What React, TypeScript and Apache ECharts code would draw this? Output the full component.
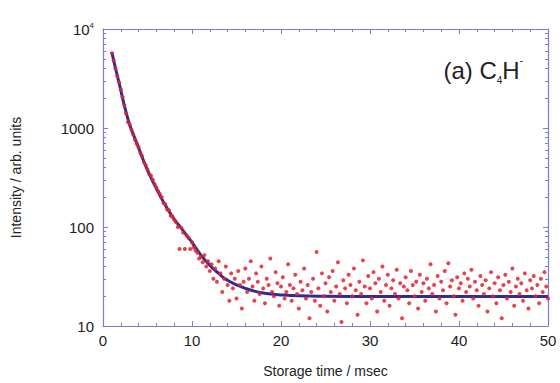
import React, { useEffect, useRef } from "react";
import * as echarts from "echarts";

const xTicks = [0, 10, 20, 30, 40, 50];
const yTickValues = [10, 100, 1000, 10000];

// fitted decay curve [time (ms), intensity]
const fitCurve: [number, number][] = [
  [1.0, 5800], [1.25, 4600], [1.5, 3700], [1.75, 3000], [2.0, 2400], [2.5, 1550],
  [3.0, 1080], [3.5, 820], [4.0, 630], [4.5, 480], [5.0, 375], [5.5, 300],
  [6.0, 245], [6.5, 200], [7.0, 166], [7.5, 140], [8.0, 120], [8.5, 105],
  [9.0, 92], [9.5, 80], [10.0, 70], [10.5, 60], [11.0, 52], [11.5, 46],
  [12.0, 41], [12.5, 37], [13.0, 34], [13.5, 31], [14.0, 29], [14.5, 27.4],
  [15.0, 26], [16.0, 24], [17.0, 22.5], [18.0, 21.5], [19.0, 21], [20.0, 20.6],
  [22.0, 20.2], [25.0, 20], [30.0, 19.9], [35.0, 19.9], [40.0, 19.9], [45.0, 19.9], [50.0, 19.9],
];

// measured ion intensity [time (ms), intensity]
const measured: [number, number][] = [
  [1.0, 5700], [1.2, 4800], [1.4, 4000], [1.6, 3350], [1.8, 2900], [2.0, 2450],
  [2.2, 2050], [2.4, 1700], [2.6, 1400], [2.8, 1150], [3.0, 1080], [3.2, 960],
  [3.4, 860], [3.6, 760], [3.8, 690], [4.0, 640], [4.2, 560], [4.4, 520],
  [4.6, 450], [4.8, 420], [5.0, 380], [5.2, 340], [5.4, 330], [5.6, 300],
  [5.8, 270], [6.0, 250], [6.2, 230], [6.4, 215], [6.6, 200], [6.8, 175],
  [7.0, 170], [7.2, 150], [7.4, 148], [7.6, 130], [7.8, 128], [8.0, 118],
  [8.2, 112], [8.4, 100], [8.6, 60], [8.8, 98], [9.0, 88], [9.2, 60],
  [9.4, 82], [9.6, 78], [9.8, 60], [10.0, 70], [10.2, 62], [10.4, 58],
  [10.6, 55], [10.8, 48], [11.0, 50], [11.2, 44], [11.4, 52], [11.6, 40],
  [11.8, 45], [12.0, 36], [12.2, 42], [12.4, 30], [12.6, 38], [12.8, 28],
  [13.0, 45], [13.2, 34], [13.4, 22], [13.6, 30], [13.8, 40], [14.0, 26],
  [14.2, 18], [14.4, 34], [14.6, 24], [14.8, 30], [15.0, 19], [15.2, 36],
  [15.4, 26], [15.6, 15], [15.8, 28], [16.0, 38], [16.2, 22], [16.4, 30],
  [16.6, 45], [16.8, 25], [17.0, 18], [17.2, 34], [17.4, 28], [17.6, 21],
  [17.8, 40], [18.0, 24], [18.2, 17], [18.4, 30], [18.6, 26], [18.8, 48],
  [19.0, 22], [19.2, 20], [19.4, 35], [19.6, 27], [19.8, 16], [20.0, 25],
  [20.2, 31], [20.4, 19], [20.6, 22], [20.8, 42], [21.0, 26], [21.2, 18],
  [21.4, 24], [21.6, 33], [21.8, 21], [22.0, 15], [22.2, 28], [22.4, 23],
  [22.6, 38], [22.8, 19], [23.0, 26], [23.2, 12], [23.4, 22], [23.6, 30],
  [23.8, 18], [24.0, 56], [24.2, 24], [24.4, 16], [24.6, 34], [24.8, 20],
  [25.0, 27], [25.2, 14], [25.4, 31], [25.6, 22], [25.8, 36], [26.0, 18],
  [26.2, 25], [26.4, 44], [26.6, 21], [26.8, 11], [27.0, 29], [27.2, 24],
  [27.4, 17], [27.6, 33], [27.8, 26], [28.0, 20], [28.2, 38], [28.4, 23],
  [28.6, 13], [28.8, 28], [29.0, 21], [29.2, 46], [29.4, 25], [29.6, 17],
  [29.8, 32], [30.0, 24], [30.2, 19], [30.4, 35], [30.6, 27], [30.8, 14],
  [31.0, 30], [31.2, 22], [31.4, 40], [31.6, 18], [31.8, 26], [32.0, 33],
  [32.2, 16], [32.4, 24], [32.6, 29], [32.8, 21], [33.0, 37], [33.2, 19],
  [33.4, 27], [33.6, 12], [33.8, 25], [34.0, 31], [34.2, 23], [34.4, 17],
  [34.6, 36], [34.8, 26], [35.0, 20], [35.2, 28], [35.4, 15], [35.6, 33],
  [35.8, 22], [36.0, 27], [36.2, 18], [36.4, 30], [36.6, 24], [36.8, 42],
  [37.0, 21], [37.2, 26], [37.4, 14], [37.6, 32], [37.8, 19], [38.0, 28],
  [38.2, 23], [38.4, 36], [38.6, 17], [38.8, 43], [39.0, 25], [39.2, 29],
  [39.4, 20], [39.6, 13], [39.8, 31], [40.0, 24], [40.2, 27], [40.4, 18],
  [40.6, 34], [40.8, 22], [41.0, 30], [41.2, 25], [41.4, 37], [41.6, 19],
  [41.8, 28], [42.0, 23], [42.2, 16], [42.4, 32], [42.6, 26], [42.8, 21],
  [43.0, 29], [43.2, 14], [43.4, 24], [43.6, 35], [43.8, 20], [44.0, 27],
  [44.2, 17], [44.4, 31], [44.6, 23], [44.8, 12], [45.0, 26], [45.2, 33],
  [45.4, 19], [45.6, 28], [45.8, 22], [46.0, 38], [46.2, 16], [46.4, 25],
  [46.6, 30], [46.8, 21], [47.0, 27], [47.2, 18], [47.4, 34], [47.6, 23],
  [47.8, 15], [48.0, 29], [48.2, 24], [48.4, 32], [48.6, 20], [48.8, 26],
  [49.0, 17], [49.2, 30], [49.4, 22], [49.6, 35], [49.8, 25], [50.0, 19],
];

const axisColor = "#7b7bd8";
const textColor = "#222";
const font = "Liberation Sans, Arial, sans-serif";

export default function App() {
  const ref = useRef<HTMLDivElement>(null);
  useEffect(() => {
    if (!ref.current) return;
    const chart = echarts.init(ref.current, undefined, { renderer: "svg" });
    const axisLine = { show: true, onZero: false, lineStyle: { color: axisColor, width: 1.2 } };
    const tick = { show: true, inside: true, length: 5, lineStyle: { color: axisColor } };
    const minor = { show: true, splitNumber: 5, length: 3, lineStyle: { color: axisColor } };
    chart.setOption({
      animation: false,
      backgroundColor: "#fff",
      grid: { left: 103, right: 12, top: 29, bottom: 57 },
      textStyle: { fontFamily: font },
      title: {
        text: "(a) C{sub|4}H{sup|-}",
        right: 32,
        top: 50,
        textStyle: {
          fontFamily: font,
          fontSize: 24,
          fontWeight: "normal",
          color: textColor,
          lineHeight: 30,
          rich: {
            sub: { fontSize: 10, fontFamily: font, color: textColor, verticalAlign: "bottom", lineHeight: 30 },
            sup: { fontSize: 10, fontFamily: font, color: textColor, verticalAlign: "top", lineHeight: 30 },
          },
        },
      },
      xAxis: [
        {
          type: "value",
          min: xTicks[0],
          max: xTicks[xTicks.length - 1],
          interval: 10,
          position: "bottom",
          name: "Storage time / msec",
          nameLocation: "middle",
          nameGap: 38,
          nameTextStyle: { fontFamily: font, fontSize: 14, color: textColor },
          axisLine,
          axisTick: tick,
          minorTick: minor,
          splitLine: { show: false },
          axisLabel: { fontFamily: font, fontSize: 15, color: textColor, margin: 7 },
        },
        {
          type: "value",
          min: xTicks[0],
          max: xTicks[xTicks.length - 1],
          interval: 10,
          position: "top",
          axisLine,
          axisTick: tick,
          minorTick: minor,
          splitLine: { show: false },
          axisLabel: { show: false },
        },
      ],
      yAxis: [
        {
          type: "log",
          logBase: 10,
          min: yTickValues[0],
          max: yTickValues[yTickValues.length - 1],
          position: "left",
          name: "Intensity / arb. units",
          nameLocation: "middle",
          nameGap: 80,
          nameTextStyle: { fontFamily: font, fontSize: 14, color: textColor },
          axisLine,
          axisTick: tick,
          minorTick: { show: true, splitNumber: 9, length: 3, lineStyle: { color: axisColor } },
          splitLine: { show: false },
          axisLabel: {
            fontFamily: font,
            fontSize: 15,
            color: textColor,
            margin: 9,
            formatter: (v: number) => (v >= 10000 ? "10{sup|4}" : String(Math.round(v))),
            rich: {
              sup: { fontSize: 8, fontFamily: font, color: textColor, verticalAlign: "top", padding: [0, 0, 8, 0] },
            },
          },
        },
        {
          type: "log",
          logBase: 10,
          min: yTickValues[0],
          max: yTickValues[yTickValues.length - 1],
          position: "right",
          axisLine,
          axisTick: tick,
          minorTick: { show: true, splitNumber: 9, length: 3, lineStyle: { color: axisColor } },
          splitLine: { show: false },
          axisLabel: { show: false },
        },
      ],
      series: [
        {
          type: "line",
          data: fitCurve,
          smooth: true,
          showSymbol: false,
          lineStyle: { color: "#2e2e92", width: 3 },
          z: 2,
        },
        {
          type: "scatter",
          data: measured,
          symbolSize: 4,
          itemStyle: { color: "#e2222e", opacity: 0.85 },
          z: 3,
        },
      ],
    });
    return () => chart.dispose();
  }, []);
  return <div ref={ref} style={{ position: "fixed", left: 0, top: 0, width: 560, height: 383 }} />;
}
